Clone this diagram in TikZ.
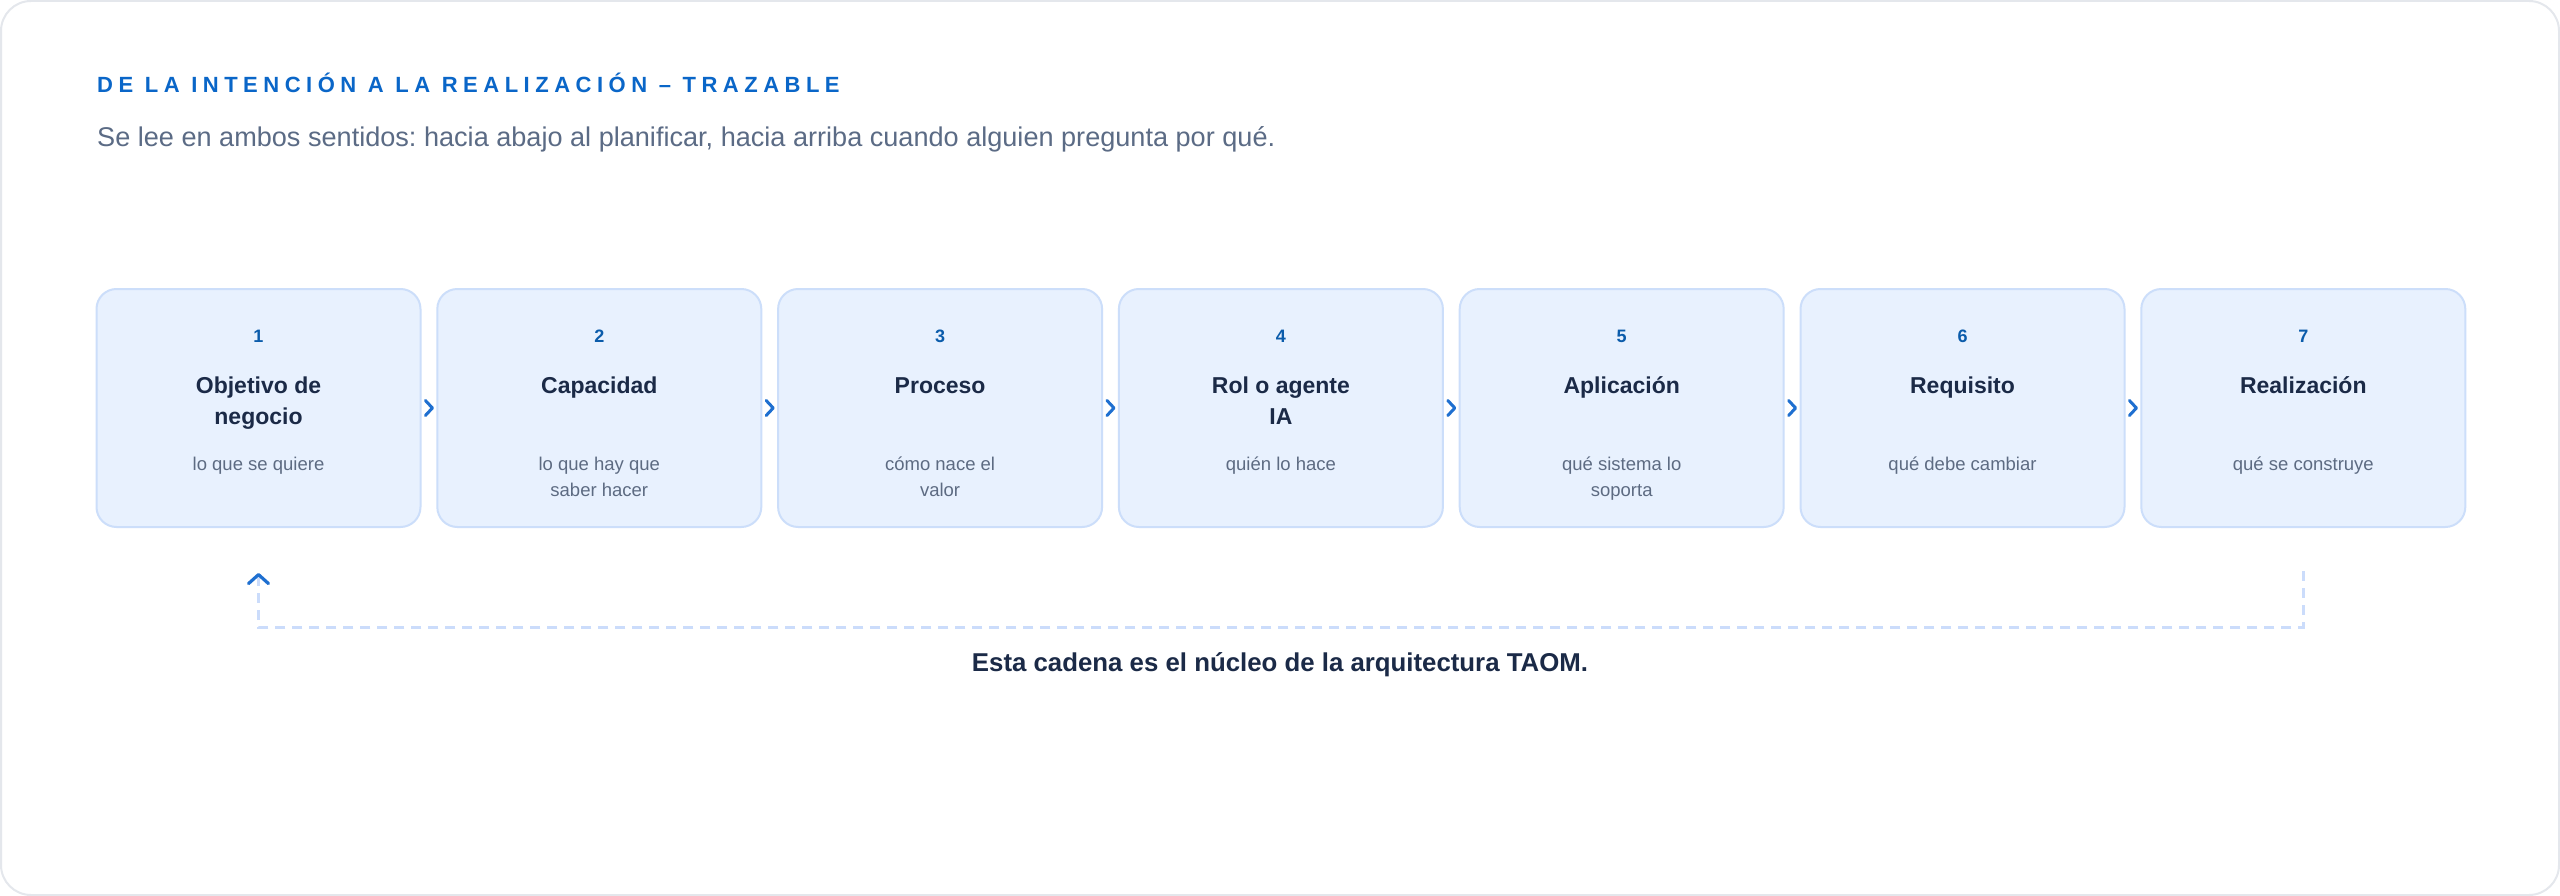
\documentclass[tikz,border=0pt]{standalone}
\usepackage{fontspec}
\setmainfont{Liberation Sans}
\newfontfamily\headfont[LetterSpace=25]{Liberation Sans}
\usepackage{tikz}
\usetikzlibrary{positioning,calc,arrows.meta}

\definecolor{framegray}{HTML}{E4E7EC}
\definecolor{headblue}{HTML}{0A66C8}
\definecolor{leadgray}{HTML}{5B6B85}
\definecolor{boxfill}{HTML}{E8F1FE}
\definecolor{boxline}{HTML}{CCDEFA}
\definecolor{numblue}{HTML}{0B5CAB}
\definecolor{navy}{HTML}{1B2A47}
\definecolor{smallgray}{HTML}{5D6B82}
\definecolor{chevblue}{HTML}{1E6FD0}
\definecolor{dashblue}{HTML}{CBDCFB}

\begin{document}
\frenchspacing
\begin{tikzpicture}[x=1pt,y=-1pt,
    stepbox/.style={draw=boxline,fill=boxfill,line width=2pt,rounded corners=20pt,
      minimum width=324pt,minimum height=238pt,inner sep=0pt,outer sep=0pt},
    numtext/.style={inner sep=0pt,anchor=base,text=numblue,font=\fontsize{18}{21}\selectfont\bfseries},
    titletext/.style={inner sep=0pt,anchor=base,text=navy,font=\fontsize{23}{28}\selectfont\bfseries},
    subtext/.style={inner sep=0pt,anchor=base,text=smallgray,font=\fontsize{18.5}{22}\selectfont},
    chev/.style={chevblue,line width=3pt,line cap=round,line join=round},
    backline/.style={dashblue,line width=3pt,dash pattern=on 10pt off 7pt,
      -{Straight Barb[length=9pt,width=20pt,line width=3.2pt,color=chevblue,round]}}]
        \useasboundingbox (0,0) rectangle (2560,896);
        \draw[framegray,line width=2pt,fill=white,rounded corners=30pt] (1,1) rectangle (2559,895);

        % heading
        \node[inner sep=0pt,anchor=base west,text=headblue,font=\fontsize{22}{26}\headfont\bfseries]
          (head) at (97,93) {DE LA INTENCIÓN A LA REALIZACIÓN – TRAZABLE};
        \node[inner sep=0pt,anchor=base west,text=leadgray,font=\fontsize{27.1}{32}\selectfont]
          (lead) at (97,147) {Se lee en ambos sentidos: hacia abajo al planificar, hacia arriba cuando alguien pregunta por qué.};

        % the seven steps
        \node[stepbox] (s1) at (258.5,408) {};
        \foreach \i [remember=\i as \j (initially 1)] in {2,...,7}
          \node[stepbox,right=16.8pt of s\j] (s\i) {};
        \foreach \i/\ta/\tb/\da/\db in {1/Objetivo de/negocio/lo que se quiere/,
            2/Capacidad//lo que hay que/saber hacer,
            3/Proceso//cómo nace el/valor,
            4/Rol o agente/IA/quién lo hace/,
            5/Aplicación//qué sistema lo/soporta,
            6/Requisito//qué debe cambiar/,
            7/Realización//qué se construye/} {
          \node[numtext] (n\i) at ([yshift=-53pt]s\i.north) {\i};
          \node[titletext] (t\i) at ([yshift=-104pt]s\i.north) {\ta};
          \node[titletext] (tt\i) at ([yshift=-135pt]s\i.north) {\tb};
          \node[subtext] (d\i) at ([yshift=-181pt]s\i.north) {\da};
          \node[subtext] (dd\i) at ([yshift=-207pt]s\i.north) {\db};
        }
        \foreach \i [evaluate=\i as \k using int(\i+1)] in {1,...,6}
          \draw[chev] ($(s\i.east)!0.5!(s\k.west)$) ++(-3.5,-7.5) -- ++(7,7.5) -- ++(-7,7.5);

        % way back up
        \coordinate (r7) at ([yshift=-44pt]s7.south);
        \coordinate (r1) at ([yshift=-46pt]s1.south);
        \draw[backline] (r7) -- ++(0,56) -| (r1);
        \node[inner sep=0pt,anchor=base,text=navy,font=\fontsize{25.8}{31}\selectfont\bfseries]
          (note) at (1280,671) {Esta cadena es el núcleo de la arquitectura TAOM.};
\end{tikzpicture}
\end{document}
